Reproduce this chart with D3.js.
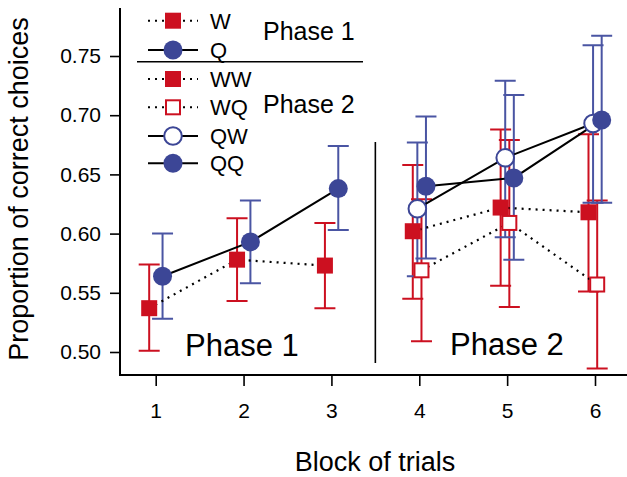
<!DOCTYPE html>
<html>
<head>
<meta charset="utf-8">
<script src="https://d3js.org/d3.v7.min.js"></script>
<style>
  body { margin: 0; background: #fff; }
  text { font-family: "Liberation Sans", Arial, sans-serif; fill: #000; }
</style>
</head>
<body>
<div class="chart"></div>
<script>
var svgWidth = 627;
var svgHeight = 477;

// blocks of trials
var phase1Blocks = [1, 2, 3];
var phase2Blocks = [4, 5, 6];
var xTicks = [1, 2, 3, 4, 5, 6];
var yTicks = [0.50, 0.55, 0.60, 0.65, 0.70, 0.75];

// phase 1
var wMean = [0.537, 0.578, 0.573];
var wLow = [0.501, 0.543, 0.537];
var wHigh = [0.574, 0.613, 0.609];

var qMean = [0.564, 0.593, 0.638];
var qLow = [0.528, 0.558, 0.603];
var qHigh = [0.600, 0.628, 0.674];

// phase 2
var wwMean = [0.602, 0.622, 0.618];
var wwLow = [0.545, 0.556, 0.551];
var wwHigh = [0.658, 0.688, 0.684];

var wqMean = [0.569, 0.609, 0.557];
var wqLow = [0.509, 0.538, 0.486];
var wqHigh = [0.629, 0.679, 0.628];

var qwMean = [0.621, 0.664, 0.693];
var qwLow = [0.564, 0.597, 0.626];
var qwHigh = [0.677, 0.729, 0.759];

var qqMean = [0.640, 0.647, 0.696];
var qqLow = [0.579, 0.578, 0.626];
var qqHigh = [0.699, 0.717, 0.767];

var red = "#cc1020";
var blue = "#3c4696";
var blueBar = "#4a55a3";

function rows(blocks, mean, low, high) {
  return blocks.map(function(b, i) {
    return { block: b, mean: mean[i], low: low[i], high: high[i] };
  });
}

// dodge, line and marker style per series
var series = [
  { name: "W", data: rows(phase1Blocks, wMean, wLow, wHigh), dx: -0.074, color: red, bar: red, shape: "square", filled: true, dotted: true },
  { name: "Q", data: rows(phase1Blocks, qMean, qLow, qHigh), dx: 0.078, color: blue, bar: blueBar, shape: "circle", filled: true, dotted: false },
  { name: "WW", data: rows(phase2Blocks, wwMean, wwLow, wwHigh), dx: -0.074, color: red, bar: red, shape: "square", filled: true, dotted: true },
  { name: "WQ", data: rows(phase2Blocks, wqMean, wqLow, wqHigh), dx: 0.025, color: red, bar: red, shape: "square", filled: false, dotted: true },
  { name: "QW", data: rows(phase2Blocks, qwMean, qwLow, qwHigh), dx: -0.022, color: blue, bar: blueBar, shape: "circle", filled: false, dotted: false },
  { name: "QQ", data: rows(phase2Blocks, qqMean, qqLow, qqHigh), dx: 0.076, color: blue, bar: blueBar, shape: "circle", filled: true, dotted: false }
];

var svg = d3.select(".chart")
  .append("svg")
  .attr("width", svgWidth)
  .attr("height", svgHeight);

var xScale = d3.scaleLinear()
  .domain([1, 6])
  .range([155.7, 595]);

var yScale = d3.scaleLinear()
  .domain([0.5, 0.75])
  .range([352, 56]);

var plotLeft = 120, plotBottom = 375;

// axes
var leftAxis = d3.axisLeft(yScale)
  .tickValues(yTicks)
  .tickFormat(d3.format(".2f"))
  .tickSize(10)
  .tickPadding(9);

var bottomAxis = d3.axisBottom(xScale)
  .tickValues(xTicks)
  .tickFormat(d3.format("d"))
  .tickSize(11)
  .tickPadding(17);

var yAxisG = svg.append("g")
  .attr("transform", `translate(${plotLeft}, 0)`)
  .call(leftAxis);

var xAxisG = svg.append("g")
  .attr("transform", `translate(0, ${plotBottom})`)
  .call(bottomAxis);

[yAxisG, xAxisG].forEach(function(g) {
  g.select(".domain").remove();
  g.selectAll("line").attr("stroke", "#000").attr("stroke-width", 1.6);
  g.selectAll("text")
    .style("font-family", "'Liberation Sans', Arial, sans-serif")
    .style("font-size", "21px")
    .attr("fill", "#000");
});

// frame (left and bottom)
svg.append("path")
  .attr("d", `M${plotLeft},8 V${plotBottom} H627`)
  .attr("fill", "none")
  .attr("stroke", "#000")
  .attr("stroke-width", 2);

// axis titles
svg.append("text")
  .attr("transform", "translate(27.5, 189) rotate(-90)")
  .attr("text-anchor", "middle")
  .style("font-size", "27px")
  .text("Proportion of correct choices");

svg.append("text")
  .attr("x", 375)
  .attr("y", 470.5)
  .attr("text-anchor", "middle")
  .style("font-size", "27px")
  .text("Block of trials");

// phase divider
svg.append("line")
  .attr("x1", xScale(3.5)).attr("x2", xScale(3.5))
  .attr("y1", 142).attr("y2", 363)
  .attr("stroke", "#000")
  .attr("stroke-width", 1.6);

svg.append("text")
  .attr("x", 185).attr("y", 356)
  .style("font-size", "31px")
  .text("Phase 1");

svg.append("text")
  .attr("x", 450).attr("y", 355)
  .style("font-size", "31px")
  .text("Phase 2");

var capHalf = 10.5;

// error bars
series.forEach(function(s) {
  var g = svg.append("g").attr("stroke", s.bar).attr("stroke-width", 2).attr("fill", "none");
  s.data.forEach(function(d) {
    var cx = xScale(d.block + s.dx);
    var y0 = yScale(d.low), y1 = yScale(d.high);
    g.append("path")
      .attr("d", `M${cx},${y0} V${y1} M${cx - capHalf},${y1} H${cx + capHalf} M${cx - capHalf},${y0} H${cx + capHalf}`);
  });
});

// connecting lines
var drawLine = function(s) {
  return d3.line()
    .x(d => xScale(d.block + s.dx))
    .y(d => yScale(d.mean))(s.data);
};

series.forEach(function(s) {
  svg.append("path")
    .attr("d", drawLine(s))
    .attr("fill", "none")
    .attr("stroke", "#000")
    .attr("stroke-width", s.dotted ? 2.2 : 2)
    .attr("stroke-dasharray", s.dotted ? "2,5" : null);
});

function drawMarker(g, s, cx, cy) {
  if (s.shape === "square") {
    var size = s.filled ? 16 : 14;
    g.append("rect")
      .attr("x", cx - size / 2).attr("y", cy - size / 2)
      .attr("width", size).attr("height", size)
      .attr("fill", s.filled ? s.color : "#fff")
      .attr("stroke", s.color)
      .attr("stroke-width", s.filled ? 0 : 2);
  } else {
    g.append("circle")
      .attr("cx", cx).attr("cy", cy)
      .attr("r", s.filled ? 9.5 : 8.8)
      .attr("fill", s.filled ? s.color : "#fff")
      .attr("stroke", s.color)
      .attr("stroke-width", s.filled ? 0 : 2);
  }
}

// markers
series.forEach(function(s) {
  var g = svg.append("g");
  s.data.forEach(function(d) {
    drawMarker(g, s, xScale(d.block + s.dx), yScale(d.mean));
  });
});

// legend
var legendRows = [20.7, 50, 79, 107.3, 136, 163.3];
var legend = svg.append("g");

series.forEach(function(s, i) {
  var ry = legendRows[i];
  legend.append("line")
    .attr("x1", 148).attr("x2", 198)
    .attr("y1", ry).attr("y2", ry)
    .attr("stroke", "#000")
    .attr("stroke-width", 2)
    .attr("stroke-dasharray", s.dotted ? "2,5" : null);
  drawMarker(legend, s, 173, ry);
  legend.append("text")
    .attr("x", 210).attr("y", ry)
    .attr("dy", "0.36em")
    .style("font-size", "22px")
    .text(s.name);
});

legend.append("line")
  .attr("x1", 137).attr("x2", 363)
  .attr("y1", 61.7).attr("y2", 61.7)
  .attr("stroke", "#000")
  .attr("stroke-width", 1.6);

legend.append("text")
  .attr("x", 263).attr("y", 40)
  .style("font-size", "25px")
  .text("Phase 1");

legend.append("text")
  .attr("x", 263).attr("y", 113)
  .style("font-size", "25px")
  .text("Phase 2");
</script>
</body>
</html>
